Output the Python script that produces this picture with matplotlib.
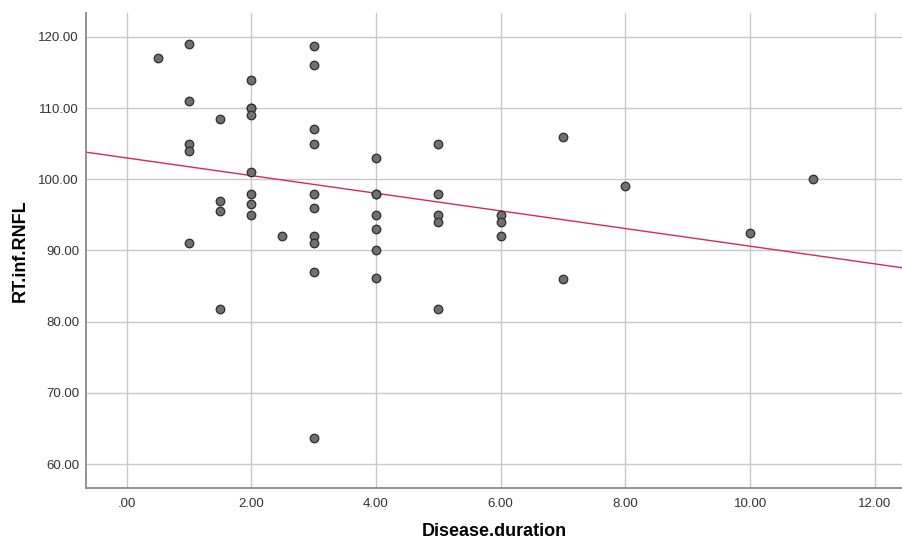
import numpy as np
import matplotlib.pyplot as plt

# data
duration = [0.5,
            1, 1, 1, 1, 1,
            1.5, 1.5, 1.5, 1.5,
            2, 2, 2, 2, 2, 2, 2, 2,
            2.5,
            3, 3, 3, 3, 3, 3, 3, 3, 3, 3,
            4, 4, 4, 4, 4, 4, 4,
            5, 5, 5, 5, 5,
            6, 6, 6,
            7, 7,
            8, 10, 11]
rnfl = [117,
        119, 111, 105, 104, 91,
        108.5, 97, 95.5, 81.8,
        114, 110, 110, 109, 101, 98, 96.5, 95,
        92,
        118.7, 116, 107, 105, 98, 96, 92, 91, 87, 63.7,
        103, 98, 98, 95, 93, 90, 86.2,
        105, 98, 95, 94, 81.8,
        95, 94, 92,
        106, 86,
        99, 92.4, 100]

# fit line (intercept, slope)
fit_intercept = 103.0
fit_slope = -1.24

xticks = [0, 2, 4, 6, 8, 10, 12]
xtick_labels = ['.00', '2.00', '4.00', '6.00', '8.00', '10.00', '12.00']
yticks = [60, 70, 80, 90, 100, 110, 120]
ytick_labels = ['60.00', '70.00', '80.00', '90.00', '100.00', '110.00', '120.00']

plt.rcParams['font.family'] = ['Liberation Sans', 'DejaVu Sans']

fig = plt.figure(figsize=(9.03, 5.43), dpi=100)
ax = fig.add_axes([0.0952, 0.1007, 0.9048, 0.876])

xlim = (-0.65, 12.45)
ax.set_xlim(*xlim)
ax.set_ylim(56.6, 123.4)

ax.set_xticks(xticks)
ax.set_xticklabels(xtick_labels)
ax.set_yticks(yticks)
ax.set_yticklabels(ytick_labels)
ax.tick_params(length=0, labelsize=9.5, labelcolor='#333333')
ax.tick_params(axis='x', pad=7)
ax.tick_params(axis='y', pad=5)

ax.grid(True, color='#c8c8c8', linewidth=1.0)
ax.set_axisbelow(True)
for side in ['top', 'right']:
    ax.spines[side].set_visible(False)
for side in ['left', 'bottom']:
    ax.spines[side].set_color('#8a8a8a')
    ax.spines[side].set_linewidth(1.3)

xs = np.array(xlim)
ax.plot(xs, fit_intercept + fit_slope * xs, color='#d6285e', linewidth=1.0, zorder=2)

ax.scatter(duration, rnfl, s=38, facecolor='#707070', edgecolor='#2e2e2e',
           linewidth=0.9, zorder=3)

ax.set_xlabel('Disease.duration', fontsize=13, fontweight='bold', labelpad=9)
ax.set_ylabel('RT.inf.RNFL', fontsize=13, fontweight='bold', labelpad=7)

fig.savefig('out.png', dpi=100)
